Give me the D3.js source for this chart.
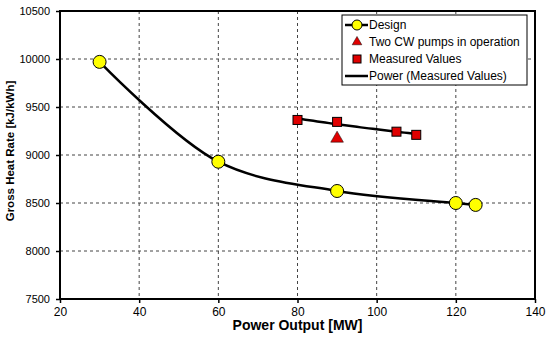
<!DOCTYPE html>
<html>
<head>
<meta charset="utf-8">
<script src="https://cdn.jsdelivr.net/npm/d3@7"></script>
<style>
  body { margin: 0; background: #fff; }
  text { font-family: "Liberation Sans", Arial, sans-serif; }
</style>
</head>
<body>
<svg id="chart" width="550" height="346"></svg>
<script>
// design curve
const designX = [30, 60, 90, 120, 125]
const designY = [9970, 8930, 8625, 8500, 8480]

// measured values
const measuredX = [80, 90, 105, 110]
const measuredY = [9365, 9345, 9243, 9210]

// two CW pumps
const pumpsX = [90]
const pumpsY = [9172]

const xTicks = [20, 40, 60, 80, 100, 120, 140]
const yTicks = [7500, 8000, 8500, 9000, 9500, 10000, 10500]

const legendLabels = ['Design', 'Two CW pumps in operation', 'Measured Values', 'Power (Measured Values)']

let svg = d3.select('#chart')

let mLeft = 60, mRight = 535, mTop = 11, mBottom = 299

let x = d3.scaleLinear().domain([20, 140]).range([mLeft, mRight])
let y = d3.scaleLinear().domain([7500, 10500]).range([mBottom, mTop])

// grid
let grid = svg.append('g')
grid.selectAll('.gx')
	.data(xTicks.slice(1, -1))
	.enter().append('line')
	.attr('x1', d => x(d)).attr('x2', d => x(d))
	.attr('y1', mTop).attr('y2', mBottom)
	.attr('stroke', '#444').attr('stroke-width', 1)
	.attr('stroke-dasharray', '3,3')
grid.selectAll('.gy')
	.data(yTicks.slice(1, -1))
	.enter().append('line')
	.attr('x1', mLeft).attr('x2', mRight)
	.attr('y1', d => y(d)).attr('y2', d => y(d))
	.attr('stroke', '#444').attr('stroke-width', 1)
	.attr('stroke-dasharray', '3,3')

// axes
let xAxis = svg.append('g')
	.attr('transform', `translate(0,${mBottom})`)
	.call(d3.axisBottom(x).tickValues(xTicks).tickSize(4).tickPadding(4))
let yAxis = svg.append('g')
	.attr('transform', `translate(${mLeft},0)`)
	.call(d3.axisLeft(y).tickValues(yTicks).tickSize(4).tickPadding(6).tickFormat(d3.format('d')))

;[xAxis, yAxis].forEach(a => {
	a.select('.domain').remove()
	a.selectAll('line').attr('stroke', '#000').attr('stroke-width', 1.5)
	a.selectAll('text').attr('fill', '#000')
})
xAxis.selectAll('text').style('font-size', '12px')
yAxis.selectAll('text').style('font-size', '11px')

// frame
svg.append('rect')
	.attr('x', mLeft).attr('y', mTop)
	.attr('width', mRight - mLeft).attr('height', mBottom - mTop)
	.attr('fill', 'none').attr('stroke', '#000').attr('stroke-width', 2)

// axis titles
svg.append('text')
	.attr('x', (mLeft + mRight) / 2).attr('y', 330)
	.attr('text-anchor', 'middle')
	.style('font-size', '14px').style('font-weight', 'bold')
	.text('Power Output [MW]')
svg.append('text')
	.attr('transform', `translate(14,151) rotate(-90)`)
	.attr('text-anchor', 'middle')
	.style('font-size', '11.5px').style('font-weight', 'bold')
	.text('Gross Heat Rate [kJ/kWh]')

// design line (smoothed)
let design = designX.map((d, i) => [d, designY[i]])
let line = d3.line().x(d => x(d[0])).y(d => y(d[1])).curve(d3.curveCatmullRom.alpha(0.5))
svg.append('path')
	.attr('d', line(design))
	.attr('fill', 'none').attr('stroke', '#000').attr('stroke-width', 2.5)

// power trendline fitted to measured values
let lx = measuredX.map(Math.log), ly = measuredY.map(Math.log)
let mx = d3.mean(lx), my = d3.mean(ly)
let b = d3.sum(lx.map((v, i) => (v - mx) * (ly[i] - my))) / d3.sum(lx.map(v => (v - mx) ** 2))
let a = Math.exp(my - b * mx)
let trend = d3.range(0, 31).map(i => {
	let xv = measuredX[0] + i * (measuredX[measuredX.length - 1] - measuredX[0]) / 30
	return [xv, a * Math.pow(xv, b)]
})
svg.append('path')
	.attr('d', d3.line().x(d => x(d[0])).y(d => y(d[1]))(trend))
	.attr('fill', 'none').attr('stroke', '#000').attr('stroke-width', 2.5)

// markers
svg.selectAll('.design')
	.data(design)
	.enter().append('circle')
	.attr('cx', d => x(d[0])).attr('cy', d => y(d[1]))
	.attr('r', 6.5)
	.attr('fill', '#ffff00').attr('stroke', '#000').attr('stroke-width', 1)

svg.selectAll('.measured')
	.data(measuredX.map((d, i) => [d, measuredY[i]]))
	.enter().append('rect')
	.attr('x', d => x(d[0]) - 4.5).attr('y', d => y(d[1]) - 4.5)
	.attr('width', 9).attr('height', 9)
	.attr('fill', '#e00000').attr('stroke', '#000').attr('stroke-width', 1)

let tri = d3.symbol().type(d3.symbolTriangle).size(70)
svg.selectAll('.pumps')
	.data(pumpsX.map((d, i) => [d, pumpsY[i]]))
	.enter().append('path')
	.attr('d', tri)
	.attr('transform', d => `translate(${x(d[0])},${y(d[1])})`)
	.attr('fill', '#e00000').attr('stroke', '#000').attr('stroke-width', 0.5)

// legend
let lg = svg.append('g')
lg.append('rect')
	.attr('x', 342).attr('y', 15).attr('width', 185).attr('height', 70)
	.attr('fill', '#fff').attr('stroke', '#000').attr('stroke-width', 1)

legendLabels.forEach((label, i) => {
	let cy = 25 + i * 17
	let g = lg.append('g')
	if (i === 0 || i === 3) {
		g.append('line').attr('x1', 345).attr('x2', 368).attr('y1', cy).attr('y2', cy)
			.attr('stroke', '#000').attr('stroke-width', 2.5)
	}
	if (i === 0) {
		g.append('circle').attr('cx', 357).attr('cy', cy).attr('r', 5)
			.attr('fill', '#ffff00').attr('stroke', '#000')
	}
	if (i === 1) {
		g.append('path').attr('d', d3.symbol().type(d3.symbolTriangle).size(40))
			.attr('transform', `translate(357,${cy})`)
			.attr('fill', '#e00000').attr('stroke', '#000').attr('stroke-width', 0.5)
	}
	if (i === 2) {
		g.append('rect').attr('x', 353).attr('y', cy - 4).attr('width', 8).attr('height', 8)
			.attr('fill', '#e00000').attr('stroke', '#000')
	}
	g.append('text')
		.attr('x', 369).attr('y', cy + 4)
		.style('font-size', '12px')
		.text(label)
})
</script>
</body>
</html>
